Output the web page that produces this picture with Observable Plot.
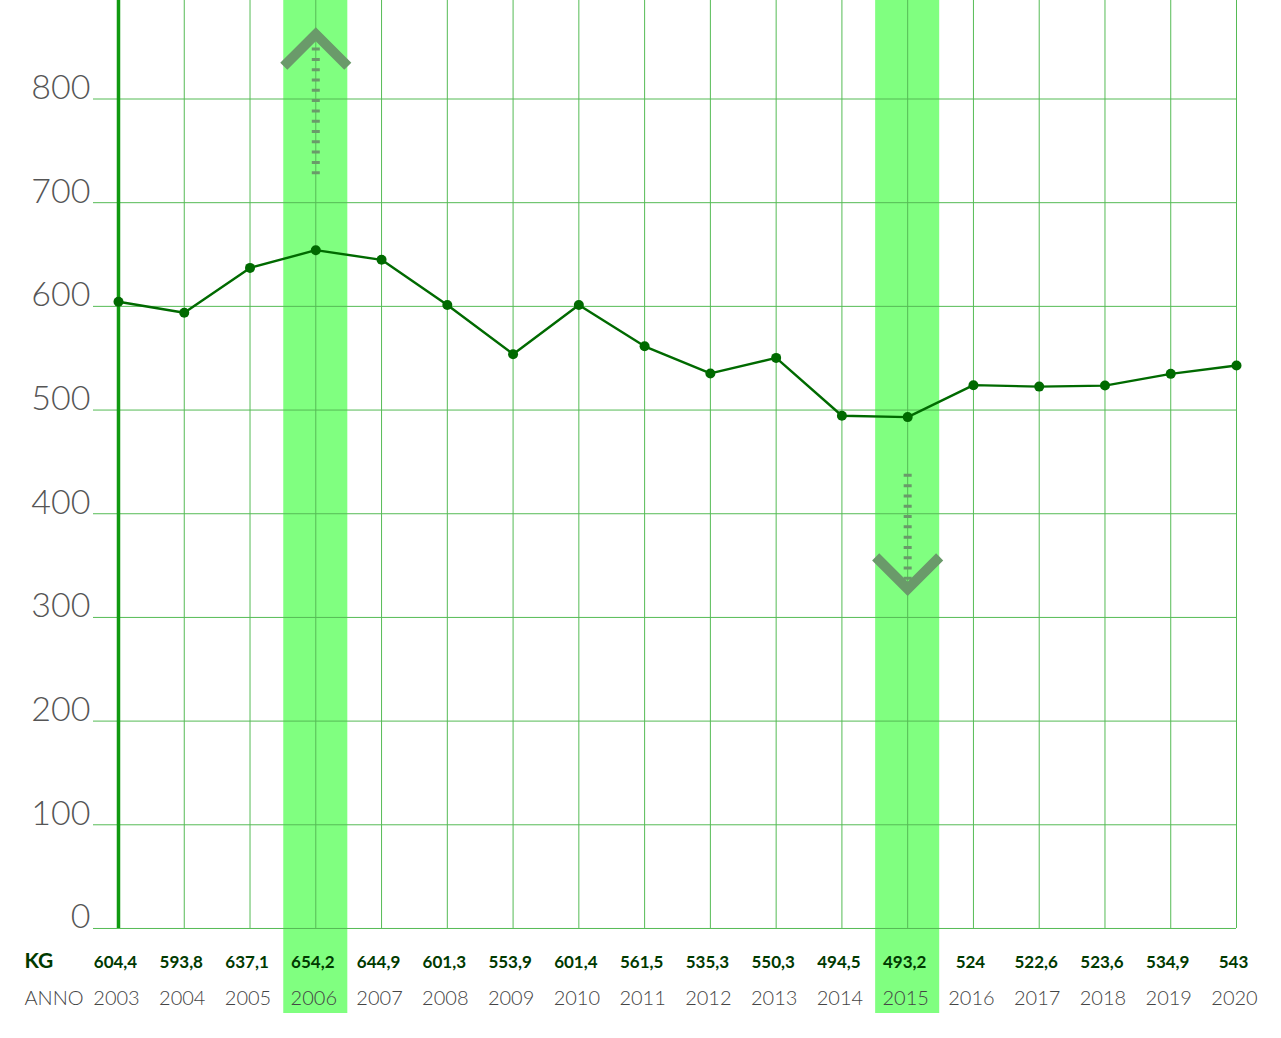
<!DOCTYPE html>
<html>
<head>
<meta charset="utf-8">
<script src="https://cdn.jsdelivr.net/npm/d3@7"></script>
<script src="https://cdn.jsdelivr.net/npm/@observablehq/plot@0.6"></script>
<style>
  html, body { margin: 0; padding: 0; background: #fff; }
  #chart svg { display: block; }
</style>
</head>
<body>
<div id="chart"></div>
<script>
const years = [2003, 2004, 2005, 2006, 2007, 2008, 2009, 2010, 2011, 2012, 2013, 2014, 2015, 2016, 2017, 2018, 2019, 2020];
const kg = [604.4, 593.8, 637.1, 654.2, 644.9, 601.3, 553.9, 601.4, 561.5, 535.3, 550.3, 494.5, 493.2, 524, 522.6, 523.6, 534.9, 543];
const yTicks = [0, 100, 200, 300, 400, 500, 600, 700, 800];
const highlightYears = [2006, 2015];
// annotation arrows: dotted shaft from/to, chevron centre value
const arrowYears = [2006, 2015];
const arrowDirs = ["up", "down"];
const arrowFrom = [727, 438];
const arrowTo = [851, 331];
const arrowHead = [847, 343];

const data = years.map((year, i) => ({year, kg: kg[i], label: new Intl.NumberFormat("it-IT").format(kg[i])}));
const arrows = arrowYears.map((year, i) => ({year, dir: arrowDirs[i], from: arrowFrom[i], to: arrowTo[i], head: arrowHead[i]}));

const chevronUp = {
  draw(ctx, size) {
    const r = Math.sqrt(size / Math.PI);
    ctx.moveTo(-r, r / 2);
    ctx.lineTo(0, -r / 2);
    ctx.lineTo(r, r / 2);
  }
};
const chevronDown = {
  draw(ctx, size) {
    const r = Math.sqrt(size / Math.PI);
    ctx.moveTo(-r, -r / 2);
    ctx.lineTo(0, r / 2);
    ctx.lineTo(r, -r / 2);
  }
};

const yMin = -82, yMax = 895;
const grid = "#55bb55";
const arrowColor = "#6a9a6a";
const lineColor = "#006a00";

const chart = Plot.plot({
  width: 1281,
  height: 1038,
  marginLeft: 93,
  marginRight: 45,
  marginTop: 0,
  marginBottom: 25,
  x: {domain: [2002.62, 2020], axis: null},
  y: {domain: [yMin, yMax], axis: null},
  style: {fontFamily: "Lato, sans-serif", background: "#fff"},
  marks: [
    Plot.rect(highlightYears, {x1: d => d - 0.487, x2: d => d + 0.487, y1: yMin, y2: yMax, fill: "#80ff80"}),
    Plot.ruleY(yTicks, {stroke: grid, strokeWidth: 1}),
    Plot.ruleX(years.slice(1), {y1: 0, y2: yMax, stroke: grid, strokeWidth: 1}),
    Plot.ruleX([years[0]], {y1: 0, y2: yMax, stroke: "#109a10", strokeWidth: 3.5}),
    Plot.ruleX(arrows, {x: "year", y1: "from", y2: "to", stroke: arrowColor, strokeWidth: 8, strokeDasharray: "3,7.3"}),
    Plot.dot(arrows.filter(d => d.dir === "up"), {x: "year", y: "head", r: 32, symbol: chevronUp, fill: "none", stroke: arrowColor, strokeWidth: 10, strokeLinejoin: "miter"}),
    Plot.dot(arrows.filter(d => d.dir === "down"), {x: "year", y: "head", r: 32, symbol: chevronDown, fill: "none", stroke: arrowColor, strokeWidth: 10, strokeLinejoin: "miter"}),
    Plot.line(data, {x: "year", y: "kg", stroke: lineColor, strokeWidth: 2.4}),
    Plot.dot(data, {x: "year", y: "kg", r: 5, fill: lineColor, stroke: "none"}),
    Plot.text(yTicks, {y: d => d, frameAnchor: "left", text: d => String(d), textAnchor: "end", dx: -3, dy: -11, fontSize: 34, fontWeight: 300, fill: "#555"}),
    Plot.text(data, {x: "year", text: "label", frameAnchor: "bottom", dx: -3, dy: -46, fontSize: 17, fontWeight: 700, fill: "#003a00"}),
    Plot.text(data, {x: "year", text: d => String(d.year), frameAnchor: "bottom", dx: -2, dy: -9, fontSize: 20, fontWeight: 300, fill: "#444"}),
    Plot.text(["KG"], {frameAnchor: "bottom-left", text: d => d, textAnchor: "start", dx: -69, dy: -46, fontSize: 21, fontWeight: 700, fill: "#003a00"}),
    Plot.text(["ANNO"], {frameAnchor: "bottom-left", text: d => d, textAnchor: "start", dx: -69, dy: -9, fontSize: 20, fontWeight: 300, fill: "#444"})
  ]
});
document.getElementById("chart").appendChild(chart);
</script>
</body>
</html>
